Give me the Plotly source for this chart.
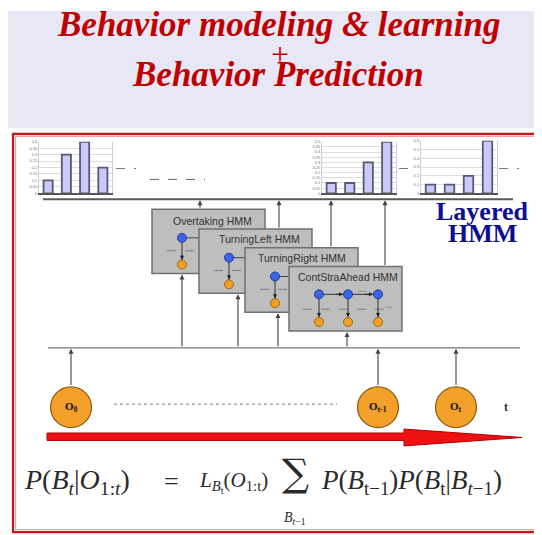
import plotly.graph_objects as go

W, H = 542, 535
OFF = 8  # page body margin: figure starts at page (8, 8)

# ---- data ----
behaviors = ["Overtaking", "TurningLeft", "TurningRight", "ContStraAhead"]
prob_t0 = [0.10, 0.30, 0.40, 0.20]
prob_tm1 = [0.10, 0.10, 0.30, 0.50]
prob_t = [0.10, 0.10, 0.20, 0.60]
y_max = [0.4, 0.5, 0.6]
y_step = [0.05, 0.05, 0.1]
hmm_labels = ["Overtaking HMM", "TurningLeft HMM", "TurningRight HMM", "ContStraAhead HMM"]
obs_labels = ["O<sub>0</sub>", "O<sub>t-1</sub>", "O<sub>t</sub>"]

fig = go.Figure()
fig.add_trace(go.Scatter(x=[OFF, W + OFF], y=[OFF, H + OFF], mode="markers", marker=dict(opacity=0),
                         xaxis="x", yaxis="y", showlegend=False, hoverinfo="skip"))

def dx(p):
    return (p - OFF) / W

def dy(p):
    return 1 - (p - OFF) / H

# bar chart panels (page pixel boxes)
panels = [(39, 112, 140, 192), (322, 396, 140, 192), (421, 497, 139, 192)]
series = [prob_t0, prob_tm1, prob_t]
layout_axes = {}
for i, ((x0, x1, y0, y1), vals) in enumerate(zip(panels, series)):
    n = i + 2
    fig.add_trace(go.Bar(x=behaviors, y=vals, width=0.5, xaxis=f"x{n}", yaxis=f"y{n}",
                         marker=dict(color="#C9C9FA", line=dict(color="#585870", width=1.8)),
                         showlegend=False))
    layout_axes[f"xaxis{n}"] = dict(domain=[dx(x0), dx(x1)], anchor=f"y{n}", showticklabels=False,
                                    showline=True, linecolor="#555", linewidth=2, showgrid=False,
                                    zeroline=False, fixedrange=True)
    layout_axes[f"yaxis{n}"] = dict(domain=[dy(y1), dy(y0)], anchor=f"x{n}",
                                    range=[0, y_max[i]], dtick=y_step[i],
                                    tickfont=dict(size=4, color="#777", family="Arial"),
                                    gridcolor="#DDDDDD", gridwidth=1, showline=True,
                                    linecolor="#CCCCCC", mirror=True, zeroline=False,
                                    ticks="", ticklen=0, fixedrange=True)

shapes = []
ann = []

def line(x0, y0, x1, y1, color="#555", width=1.2, dash="solid"):
    shapes.append(dict(type="line", xref="x", yref="y", x0=x0, y0=y0, x1=x1, y1=y1,
                       line=dict(color=color, width=width, dash=dash)))

def circle(cx, cy, r, fill, border, bw=1):
    shapes.append(dict(type="circle", xref="x", yref="y", x0=cx - r, y0=cy - r, x1=cx + r, y1=cy + r,
                       fillcolor=fill, line=dict(color=border, width=bw)))

def arrow(x0, y0, x1, y1, color="#444", width=1.1, size=0.9):
    ann.append(dict(x=x1, y=y1, ax=x0, ay=y0, xref="x", yref="y", axref="x", ayref="y",
                    showarrow=True, arrowhead=2, arrowsize=size, arrowwidth=width,
                    arrowcolor=color, text=""))

def text(x, y, s, size, color="#222", family="Liberation Serif", xanchor="center", **kw):
    ann.append(dict(x=x, y=y, xref="x", yref="y", text=s, showarrow=False, xanchor=xanchor,
                    yanchor="middle", font=dict(size=size, color=color, family=family), **kw))

# lavender title band
shapes.append(dict(type="rect", xref="x", yref="y", x0=8, y0=5, x1=W + OFF + 2, y1=126,
                   fillcolor="#E7E7F6", line=dict(width=0)))
# red frame
shapes.append(dict(type="rect", xref="x", yref="y", x0=13, y0=132, x1=W + 6, y1=534,
                   fillcolor="rgba(0,0,0,0)", line=dict(color="#C81818", width=2.2)))
shapes.append(dict(type="rect", xref="x", yref="y", x0=15.5, y0=134.5, x1=W + 6, y1=531.5,
                   fillcolor="rgba(0,0,0,0)", line=dict(color="#F2A0A0", width=1.4)))

# dashed lines near charts
line(116, 167, 136, 167, "#777", 1, "dash")
line(399, 167, 409, 167, "#777", 1, "dash")
line(499, 167, 519, 167, "#777", 1, "dash")
line(150, 178, 205, 178, "#666", 1, "dash")

# upper and lower layer lines
line(43, 198, 513, 198, "#5A5A5A", 2)
line(48, 348, 520, 348, "#777", 1.2)

# HMM boxes
BW, BH = 113, 65
boxes = [(152, 208), (199, 228), (245, 247), (289, 266)]
blue, blue_b = "#3C64E6", "#1E3C9A"
orange, orange_b = "#F0A028", "#A06A10"
for k, (bx, by) in enumerate(boxes):
    shapes.append(dict(type="rect", xref="x", yref="y", x0=bx, y0=by, x1=bx + BW, y1=by + BH,
                       fillcolor="#BEBEBE", line=dict(color="#707070", width=1.5)))
    if k < 3:
        cx = bx + 30
        line(cx, by + 29, bx + BW, by + 29, "#444", 1)
        line(cx - 15, by + 42, bx + BW, by + 42, "#7A7A9A", 1, "dash")
        line(cx, by + 29, cx, by + 52, "#333", 1)
        circle(cx, by + 29, 4.5, blue, blue_b)
        circle(cx, by + 56, 4.5, orange, orange_b)
    else:
        xs = [bx + 30, bx + 59, bx + 89]
        line(bx + 14, by + 43, bx + 103, by + 43, "#7A7A9A", 1, "dash")
        line(xs[0], by + 28, xs[2], by + 28, "#333", 1)
        for cx in xs:
            line(cx, by + 28, cx, by + 51, "#333", 1)
            circle(cx, by + 28, 4.5, blue, blue_b)
            circle(cx, by + 56, 4.5, orange, orange_b)
        line(xs[1] + 10, by + 25, xs[1] + 18, by + 25, "#888", 0.8)
        line(xs[2] + 7, by + 41, xs[2] + 14, by + 41, "#888", 0.8)

# arrow heads inside boxes
for k, (bx, by) in enumerate(boxes):
    if k < 3:
        arrow(bx + 30, by + 45, bx + 30, by + 51, "#222", 1, 0.8)
    else:
        xs = [bx + 30, bx + 59, bx + 89]
        for cx in xs:
            arrow(cx, by + 45, cx, by + 51, "#222", 1, 0.8)
        arrow(xs[0] + 15, by + 28, xs[1] - 5, by + 28, "#222", 1, 0.8)
        arrow(xs[1] + 15, by + 28, xs[2] - 5, by + 28, "#222", 1, 0.8)

# box labels
label_pos = [(212, 220), (259, 238), (302, 257), (348, 277)]
for s, (lx, ly) in zip(hmm_labels, label_pos):
    text(lx, ly, s, 10.5, "#333", "Arial")

# arrows boxes -> upper line
for ux, (bx, by) in zip([200, 279, 331, 385], boxes):
    arrow(ux, by, ux, 199, "#444", 1.1, 0.9)
# arrows lower line -> boxes
for lx, (bx, by) in zip([182, 238, 278, 347], boxes):
    arrow(lx, 348, lx, by + BH + 1, "#444", 1.1, 0.9)

# observations
obs_x = [71, 378, 456]
for ox, lab in zip(obs_x, obs_labels):
    circle(ox, 408, 20.5, "#F2A02A", "#8A5A10", 1.2)
    arrow(ox, 387, ox, 349, "#444", 1.1, 0.9)
    text(ox, 408, "<b>" + lab + "</b>", 11, "#111")
line(114, 405, 337, 405, "#AAAAAA", 1.5, "dot")
text(506, 408, "<b>t</b>", 12, "#333")

# red time arrow
shapes.append(dict(type="path", xref="x", yref="y",
                   path="M 47 434 L 404 434 L 404 430 L 522 438.5 L 404 447 L 404 441.5 L 47 441.5 Z",
                   fillcolor="#EE1111", line=dict(color="#B00000", width=1)))

# titles
title_color = "#C00000"
text(278, 22, "<b><i>Behavior modeling &amp; learning</i></b>", 35, title_color)
text(280, 51, "+", 32, title_color)
text(278, 72, "<b><i>Behavior Prediction</i></b>", 35, title_color)

# Layered HMM
text(482, 210, "<b>Layered</b>", 26, "#0C0C96")
text(482, 233, "<b>HMM</b>", 26, "#0C0C96")

# formula
fc = "#2A2A2A"
text(22, 483, "<i>P</i>(<i>B</i><sub><i>t</i></sub>|<i>O</i><sub>1:<i>t</i></sub>)", 28, fc, xanchor="left")
text(171, 483, "=", 26, fc)
text(197, 483, "<i>L</i><sub><i>B</i><sub>t</sub></sub>(<i>O</i><sub>1:t</sub>)", 21, fc, xanchor="left")
text(295, 474, "∑", 38, fc, "DejaVu Serif")
text(295, 520, "<i>B</i><sub><i>t</i>−1</sub>", 14, fc)
text(319, 483, "<i>P</i>(<i>B</i><sub>t−1</sub>)<i>P</i>(<i>B</i><sub>t</sub>|<i>B</i><sub><i>t</i>−1</sub>)", 27, fc, xanchor="left")

fig.update_layout(
    width=W, height=H, autosize=False,
    margin=dict(l=0, r=0, t=0, b=0),
    paper_bgcolor="white", plot_bgcolor="white",
    xaxis=dict(range=[OFF, W + OFF], domain=[0, 1], visible=False, fixedrange=True),
    yaxis=dict(range=[H + OFF, OFF], domain=[0, 1], visible=False, fixedrange=True),
    shapes=shapes, annotations=ann, showlegend=False, bargap=0.5,
    **layout_axes,
)

fig.write_html("out.html")
